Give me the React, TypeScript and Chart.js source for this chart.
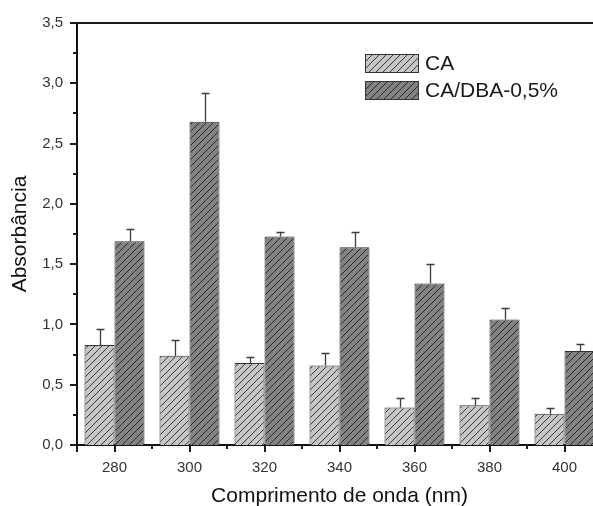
import React, { useEffect, useRef } from "react";
import { Chart, registerables } from "chart.js";

Chart.register(...registerables);

const categories = ["280", "300", "320", "340", "360", "380", "400"];
const seriesNames = ["CA", "CA/DBA-0,5%"];
const caValues = [0.83, 0.74, 0.68, 0.66, 0.31, 0.33, 0.26];
const caErrors = [0.13, 0.13, 0.05, 0.1, 0.08, 0.06, 0.05];
const dbaValues = [1.69, 2.68, 1.73, 1.64, 1.34, 1.04, 0.78];
const dbaErrors = [0.1, 0.24, 0.04, 0.13, 0.16, 0.1, 0.06];
const yMajorTicks = [0, 0.5, 1, 1.5, 2, 2.5, 3, 3.5];
const yMinorTicks = [0.25, 0.75, 1.25, 1.75, 2.25, 2.75, 3.25];
const xTitle = "Comprimento de onda (nm)";
const yTitle = "Absorbância";

const FONT = "'Liberation Sans', Arial, sans-serif";

function makePattern(bg: string, line: string): CanvasPattern | string {
  const s = 7;
  const c = document.createElement("canvas");
  c.width = s;
  c.height = s;
  const g = c.getContext("2d");
  if (!g) return bg;
  g.fillStyle = bg;
  g.fillRect(0, 0, s, s);
  g.strokeStyle = line;
  g.lineWidth = 1;
  g.beginPath();
  g.moveTo(-1, s + 1);
  g.lineTo(s + 1, -1);
  g.moveTo(-1, 1);
  g.lineTo(1, -1);
  g.moveTo(s - 1, s + 1);
  g.lineTo(s + 1, s - 1);
  g.stroke();
  const p = g.createPattern(c, "repeat");
  return p || bg;
}

export default function App() {
  const ref = useRef<HTMLCanvasElement | null>(null);

  useEffect(() => {
    const canvas = ref.current;
    if (!canvas) return;
    const caFill = makePattern("#c6c6c6", "#3a3a3a");
    const dbaFill = makePattern("#828282", "#2a2a2a");
    const errors = [caErrors, dbaErrors];

    const decor = {
      id: "decor",
      afterDraw(chart: any) {
        const { ctx, chartArea, scales } = chart;
        const ys = scales.y;
        const xs = scales.x;
        ctx.save();
        ctx.strokeStyle = "#1a1a1a";
        ctx.lineWidth = 2;
        // top frame line
        ctx.beginPath();
        ctx.moveTo(chartArea.left - 1, chartArea.top);
        ctx.lineTo(chartArea.right + 10, chartArea.top);
        ctx.stroke();
        // y axis extension below
        ctx.beginPath();
        ctx.moveTo(chartArea.left, chartArea.bottom);
        ctx.lineTo(chartArea.left, chartArea.bottom + 7);
        ctx.stroke();
        // y ticks
        yMajorTicks.forEach((v) => {
          const y = Math.round(ys.getPixelForValue(v));
          ctx.beginPath();
          ctx.moveTo(chartArea.left - 7, y);
          ctx.lineTo(chartArea.left, y);
          ctx.stroke();
        });
        yMinorTicks.forEach((v) => {
          const y = Math.round(ys.getPixelForValue(v));
          ctx.beginPath();
          ctx.moveTo(chartArea.left - 4, y);
          ctx.lineTo(chartArea.left, y);
          ctx.stroke();
        });
        // x ticks
        categories.forEach((_, i) => {
          const x = Math.round(xs.getPixelForValue(i));
          ctx.beginPath();
          ctx.moveTo(x, chartArea.bottom);
          ctx.lineTo(x, chartArea.bottom + 7);
          ctx.stroke();
          if (i > 0) {
            const xm = Math.round((xs.getPixelForValue(i) + xs.getPixelForValue(i - 1)) / 2);
            ctx.beginPath();
            ctx.moveTo(xm, chartArea.bottom);
            ctx.lineTo(xm, chartArea.bottom + 4);
            ctx.stroke();
          }
        });
        ctx.restore();
      },
      afterDatasetsDraw(chart: any) {
        const { ctx, scales } = chart;
        const ys = scales.y;
        ctx.save();
        ctx.strokeStyle = "#3c3c3c";
        ctx.lineWidth = 1.3;
        chart.data.datasets.forEach((ds: any, di: number) => {
          const meta = chart.getDatasetMeta(di);
          meta.data.forEach((bar: any, j: number) => {
            const v = ds.data[j];
            const e = errors[di][j];
            const x = Math.round(bar.x) + 0.5;
            const y0 = ys.getPixelForValue(v);
            const y1 = Math.round(ys.getPixelForValue(v + e)) + 0.5;
            ctx.beginPath();
            ctx.moveTo(x, y0);
            ctx.lineTo(x, y1);
            ctx.moveTo(x - 4, y1);
            ctx.lineTo(x + 4, y1);
            ctx.stroke();
          });
        });
        // legend
        const fills = [caFill, dbaFill];
        const bx = 365;
        const by = [54, 81];
        ctx.font = "21px " + FONT;
        ctx.textBaseline = "middle";
        ctx.textAlign = "left";
        seriesNames.forEach((name, i) => {
          ctx.fillStyle = fills[i] as any;
          ctx.fillRect(bx, by[i], 53, 18);
          ctx.strokeStyle = "#333";
          ctx.lineWidth = 1;
          ctx.strokeRect(bx + 0.5, by[i] + 0.5, 53, 18);
          ctx.fillStyle = "#1a1a1a";
          ctx.fillText(name, bx + 60, by[i] + 10);
        });
        ctx.restore();
      },
    };

    const chart = new Chart(canvas, {
      type: "bar",
      data: {
        labels: categories,
        datasets: [
          {
            label: seriesNames[0],
            data: caValues,
            backgroundColor: caFill as any,
            borderColor: "#333",
            borderWidth: 1,
            barPercentage: 1,
            categoryPercentage: 0.8,
          },
          {
            label: seriesNames[1],
            data: dbaValues,
            backgroundColor: dbaFill as any,
            borderColor: "#333",
            borderWidth: 1,
            barPercentage: 1,
            categoryPercentage: 0.8,
          },
        ],
      },
      options: {
        animation: false,
        responsive: false,
        devicePixelRatio: 1,
        layout: { padding: { top: 20, right: 10, left: 0, bottom: 0 } },
        plugins: {
          legend: { display: false },
          tooltip: { enabled: false },
        },
        scales: {
          x: {
            type: "category",
            offset: true,
            grid: { display: false, drawTicks: false },
            border: { display: true, color: "#111", width: 2 },
            ticks: {
              color: "#333",
              font: { family: FONT, size: 15 },
              padding: 14,
              maxRotation: 0,
            },
            title: {
              display: true,
              text: xTitle,
              color: "#111",
              font: { family: FONT, size: 21 },
              padding: { top: 0, bottom: -3 },
            },
            afterFit: (s: any) => {
              s.height = 61;
            },
          },
          y: {
            type: "linear",
            min: 0,
            max: 3.5,
            grid: { display: false, drawTicks: false },
            border: { display: true, color: "#111", width: 2 },
            afterBuildTicks: (s: any) => {
              s.ticks = yMajorTicks.map((v) => ({ value: v }));
            },
            ticks: {
              color: "#333",
              font: { family: FONT, size: 15 },
              padding: 14,
              callback: (v: any) => Number(v).toFixed(1).replace(".", ","),
            },
            title: {
              display: true,
              text: yTitle,
              color: "#111",
              font: { family: FONT, size: 21 },
              padding: { top: 8, bottom: 0 },
            },
            afterFit: (s: any) => {
              s.width = 77;
            },
          },
        },
      },
      plugins: [decor],
    });
    return () => chart.destroy();
  }, []);

  return (
    <div
      style={{
        position: "fixed",
        left: 0,
        top: 0,
        width: 593,
        height: 506,
        overflow: "hidden",
        background: "#fff",
      }}
    >
      <canvas ref={ref} width={612} height={506} style={{ width: 612, height: 506, display: "block" }} />
    </div>
  );
}
